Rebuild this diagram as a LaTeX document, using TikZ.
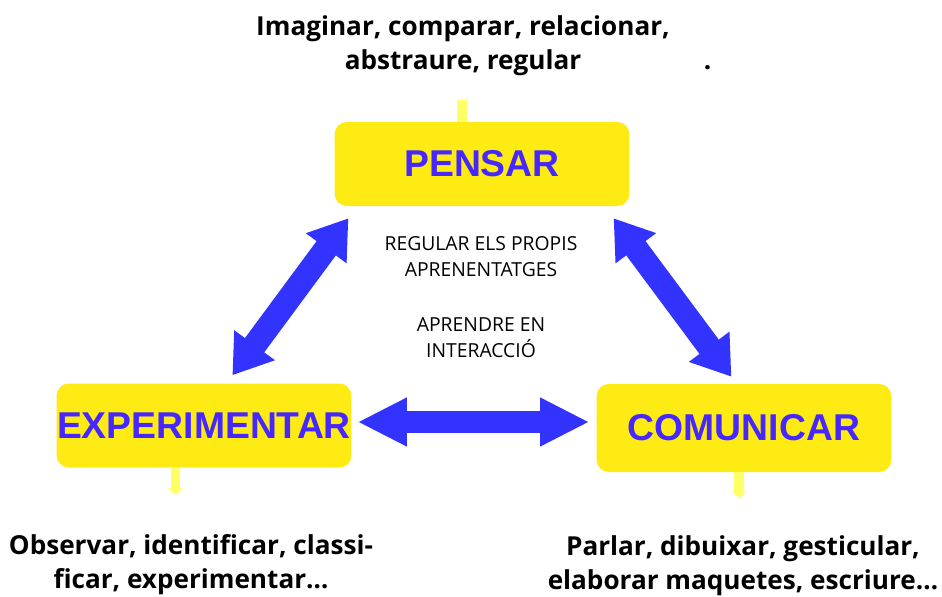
\documentclass[tikz,border=0pt]{standalone}
\usepackage{fontspec}
\setmainfont{Open Sans}
\newfontfamily\boxfont{Liberation Sans}
\usepackage{xcolor}
\usetikzlibrary{positioning,calc,arrows.meta}
\definecolor{boxyellow}{RGB}{255,235,20}
\definecolor{paleyellow}{RGB}{255,255,102}
\definecolor{arrowblue}{RGB}{51,51,255}
\definecolor{textblue}{RGB}{70,40,255}
\tikzset{
skill/.style={fill=boxyellow, rounded corners=9pt, minimum width=221pt, minimum height=63pt, inner sep=0pt, text=textblue, font=\boxfont\bfseries\fontsize{28}{30}\selectfont},
skilltext/.style={align=center, font=\bfseries\fontsize{19.6}{25.5}\selectfont},
midtext/.style={align=center, font=\fontsize{14.5}{19.5}\selectfont},
link/.style={draw=arrowblue, line width=18pt, {Triangle[width=36pt,length=28pt]}-{Triangle[width=36pt,length=28pt]}},
flatlink/.style={draw=arrowblue, line width=17pt, {Triangle[width=34pt,length=37pt]}-{Triangle[width=34pt,length=37pt]}},
marker/.style={draw=paleyellow, line width=7pt},
markertip/.style={marker, -{Triangle[width=11pt,length=5pt]}}
}

\begin{document}
\begin{tikzpicture}[x=0.75pt,y=-0.75pt]
\useasboundingbox (0,0) rectangle (942,596);
% the three boxes
\node[skill] (pensar) at (482,164) {PENSAR};
\node[skill] (expe) at (204,425.5) {EXPERIMENTAR};
\node[skill, minimum height=66pt] (comu) at (744,428) {COMUNICAR};

% texts round them
\node[skilltext] (top) at (463,46) {Imaginar, comparar, relacionar,\\abstraure, regular\rlap{\hspace{92pt}.}};
\node[skilltext] (left) at (191,565) {Observar, identificar, classi-\\ficar, experimentar…};
\node[skilltext] (right) at (743,566) {Parlar, dibuixar, gesticular,\\elaborar maquetes, escriure…};
\node[midtext] (reg) at (481,257) {REGULAR ELS PROPIS\\APRENENTATGES};
\node[midtext] (inter) at (481,338) {APRENDRE EN\\INTERACCIÓ};

% small yellow marks
\coordinate (topend) at (462,100);
\coordinate (leftend) at (175.5,495);
\coordinate (rightend) at (739,498);
\draw[marker] ($(pensar.north)+(-20,0)$) -- (topend);
\draw[markertip] ($(expe.south)+(-28.5,0)$) -- (leftend);
\draw[markertip] ($(comu.south)+(-5,0)$) -- (rightend);

% blue double arrows
\draw[link] ($(expe.north west)+(176,-8)$) -- ($(pensar.south west)+(14,12)$);
\draw[link] ($(pensar.south east)+(-16,12)$) -- ($(comu.north west)+(135,-7)$);
\draw[flatlink] ($(expe.east)+(6,-3.5)$) -- ($(comu.west)+(-7,-6)$);
\end{tikzpicture}
\end{document}
